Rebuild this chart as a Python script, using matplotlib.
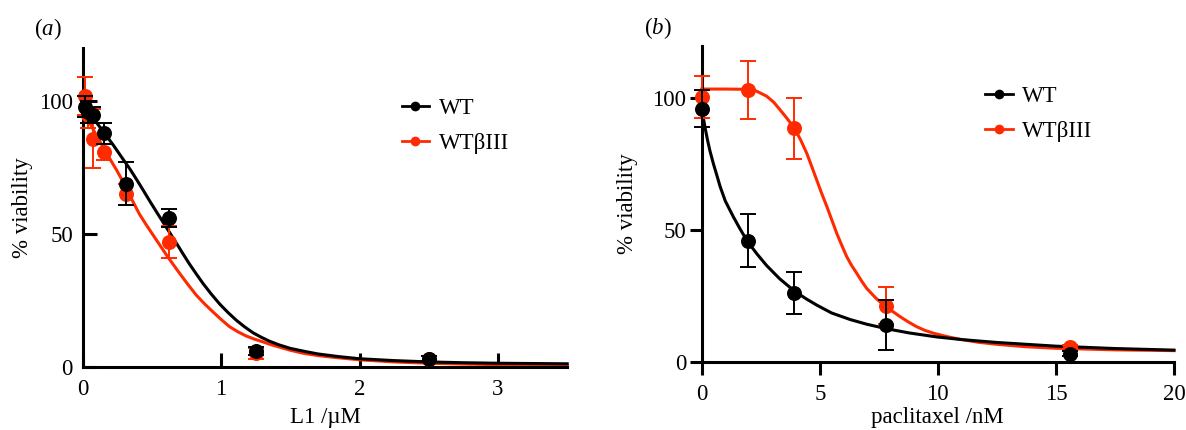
import matplotlib
matplotlib.use("Agg")
import matplotlib.pyplot as plt
from matplotlib.lines import Line2D

plt.rcParams["font.family"] = ["Liberation Serif", "DejaVu Serif"]
plt.rcParams["mathtext.fontset"] = "custom"
plt.rcParams["mathtext.rm"] = "Liberation Serif"
plt.rcParams["mathtext.it"] = "Liberation Serif:italic"

RED = "#ff2a00"
BLACK = "#000000"

# ---- panel (a): L1 dose response ----
l1_dose = [0.0195, 0.039, 0.078, 0.156, 0.3125, 0.625, 1.25, 2.5]
wt_l1 = [98, 96, 95, 88, 69, 56, 6, 3]
wt_l1_err = [4, 4, 3, 4, 8, 3.5, 1.5, 1]
b3_l1 = [102, 95, 86, 81, 65, 47, 5, 3]
b3_l1_err = [7, 5, 11, 3, 4, 6, 2, 1]

# fitted curves
wt_fit_x_a = [0, 0.05, 0.1, 0.16, 0.22, 0.29, 0.34, 0.39, 0.435, 0.48, 0.53, 0.58, 0.63,
              0.68, 0.725, 0.77, 0.82, 0.87, 0.93, 0.99, 1.05, 1.11, 1.17, 1.23, 1.29,
              1.35, 1.42, 1.5, 1.6, 1.7, 1.85, 2.0, 2.25, 2.5, 2.75, 3.0, 3.25, 3.5]
wt_fit_y_a = [98.5, 95.5, 92, 87.8, 83.6, 78.3, 74.6, 70.5, 66.7, 62.8, 58.6, 54.5, 50.4,
              46.3, 42.5, 38.8, 35, 31.3, 27.3, 23.6, 20.4, 17.5, 15, 12.8, 11.1,
              9.6, 8.2, 6.9, 5.8, 4.8, 3.8, 3.0, 2.3, 1.8, 1.5, 1.3, 1.2, 1.1]
b3_fit_x_a = [0, 0.05, 0.1, 0.16, 0.2, 0.245, 0.285, 0.32, 0.365, 0.41, 0.46, 0.51, 0.555,
              0.6, 0.65, 0.7, 0.76, 0.82, 0.88, 0.94, 1.0, 1.06, 1.12, 1.18, 1.24,
              1.3, 1.36, 1.42, 1.5, 1.6, 1.7, 1.8, 2.0, 2.25, 2.5, 2.75, 3.0, 3.25, 3.5]
b3_fit_y_a = [97.5, 92, 87, 81.7, 78, 74.1, 70.3, 66.6, 62, 57.5, 53.4, 49.5, 46,
              42.5, 38.8, 35.2, 31, 27, 23.7, 20.7, 17.8, 15.1, 13.2, 11.6, 10.4,
              9.4, 8.3, 7.4, 6.2, 5.0, 4.2, 3.6, 2.6, 1.8, 1.3, 1.0, 0.8, 0.7, 0.6]

# ---- panel (b): paclitaxel dose response ----
ptx_dose = [0, 1.95, 3.9, 7.8, 15.6]
wt_ptx = [96, 46, 26, 14, 3]
wt_ptx_err = [7, 10, 8, 9.5, 1]
b3_ptx = [100.4, 103.2, 88.6, 21.3, 5.4]
b3_ptx_err = [8, 11, 11.6, 7, 1]

wt_fit_x_b = [0, 0.08, 0.15, 0.25, 0.35, 0.5, 0.65, 0.78, 1.0, 1.34, 1.65, 1.95, 2.35,
              2.75, 3.3, 3.9, 4.4, 4.87, 5.5, 6.29, 7.0, 7.84, 8.8, 9.96, 11.0, 12.5,
              15, 17.5, 20]
wt_fit_y_b = [96, 92, 88.5, 84, 80, 75, 70.5, 66.5, 61, 55, 50, 45.5, 40.8,
              36.5, 31.5, 27, 24, 21.5, 18.5, 16, 14.2, 12.5, 10.9, 9.4, 8.4, 7.3,
              5.9, 5.0, 4.4]
b3_fit_x_b = [0, 1, 1.95, 2.3, 2.75, 3.05, 3.32, 3.6, 3.93, 4.2, 4.45, 4.66, 4.87, 5.08,
              5.3, 5.51, 5.72, 5.93, 6.14, 6.35, 6.57, 6.78, 6.99, 7.38, 7.77, 8.1, 8.4,
              8.75, 9.1, 9.45, 9.82, 10.4, 10.95, 11.7, 12.5, 13.7, 15, 17.5, 20]
b3_fit_y_b = [103.5, 103.5, 103.4, 102.8, 100.8, 98.5, 95.6, 92.5, 88.6, 84, 79.1, 74.1, 69,
              63.9, 58.9, 53.8, 48.7, 44.2, 39.9, 36.5, 33.5, 30.5, 27.8, 24.1, 21, 19, 17.1,
              15.1, 13.3, 11.9, 10.8, 9.5, 8.5, 7.4, 6.6, 5.7, 5.1, 4.5, 4.2]

labels = ["WT", "WT\u03b2III"]

W, H = 1186, 430
fig = plt.figure(figsize=(W / 100, H / 100), dpi=100)


def px_axes(x0, x1, y_top, y_bot):
    return fig.add_axes([x0 / W, 1 - y_bot / H, (x1 - x0) / W, (y_bot - y_top) / H])


ax_a = px_axes(82.7, 567.2, 48.3, 366.7)
ax_b = px_axes(701.7, 1174, 45.6, 361.7)

FS = 16.5
LW_CURVE = 2.2
MS = 10.8


def draw(ax, dose, wt, wt_err, b3, b3_err, fx_wt, fy_wt, fx_b3, fy_b3):
    ax.plot(fx_b3, fy_b3, color=RED, lw=LW_CURVE, zorder=2, clip_on=False)
    ax.plot(fx_wt, fy_wt, color=BLACK, lw=LW_CURVE, zorder=3, clip_on=False)
    ax.errorbar(dose, b3, yerr=b3_err, fmt="none", ecolor=RED,
                capsize=6, elinewidth=1.4, capthick=1.4, zorder=4, clip_on=False)
    ax.plot(dose, b3, "o", color=RED, ms=MS, mew=0, zorder=4, clip_on=False)
    ax.errorbar(dose, wt, yerr=wt_err, fmt="none", ecolor=BLACK,
                capsize=6, elinewidth=1.4, capthick=1.4, zorder=5, clip_on=False)
    ax.plot(dose, wt, "o", color=BLACK, ms=MS, mew=0, zorder=5, clip_on=False)
    for s in ["top", "right"]:
        ax.spines[s].set_visible(False)
    for s in ["left", "bottom"]:
        ax.spines[s].set_linewidth(2.2)
    ax.set_ylim(0, 120)
    ax.set_yticks([0, 50, 100])
    ax.tick_params(labelsize=FS, width=2.2)


draw(ax_a, l1_dose, wt_l1, wt_l1_err, b3_l1, b3_l1_err,
     wt_fit_x_a, wt_fit_y_a, b3_fit_x_a, b3_fit_y_a)
draw(ax_b, ptx_dose, wt_ptx, wt_ptx_err, b3_ptx, b3_ptx_err,
     wt_fit_x_b, wt_fit_y_b, b3_fit_x_b, b3_fit_y_b)

ax_a.set_xlim(0, 3.5)
ax_a.set_xticks([0, 1, 2, 3])
ax_a.tick_params(direction="in", length=10)
ax_a.tick_params(axis="x", pad=9)
ax_a.tick_params(axis="y", pad=7)

ax_b.set_xlim(0, 20)
ax_b.set_xticks([0, 5, 10, 15, 20])
ax_b.tick_params(direction="out", length=9)
ax_b.tick_params(axis="x", pad=7)
ax_b.tick_params(axis="y", pad=2)

ax_a.set_xlabel("L1 /\u00b5M", fontsize=FS, va="center")
ax_a.xaxis.set_label_coords(0.5, (366.7 - 417) / 318.4)
ax_a.set_ylabel("% viability", fontsize=FS, va="center")
ax_a.yaxis.set_label_coords((23 - 82.7) / 484.5, 0.5)

ax_b.set_xlabel("paclitaxel /nM", fontsize=FS, va="center")
ax_b.xaxis.set_label_coords(0.5, (361.7 - 417) / 316)
ax_b.set_ylabel("% viability", fontsize=FS, va="center")
ax_b.yaxis.set_label_coords((628 - 701.7) / 472.3, 0.5)

fig.text(48 / W, 1 - 29 / H, r"($\it{a}$)", fontsize=FS, ha="center", va="center")
fig.text(658 / W, 1 - 28 / H, r"($\it{b}$)", fontsize=FS, ha="center", va="center")

handles = [Line2D([], [], color=BLACK, lw=2, marker="o", ms=7, mew=0),
           Line2D([], [], color=RED, lw=2, marker="o", ms=7, mew=0)]
for ax, lx, ly in [(ax_a, 401.7, 98), (ax_b, 985, 86)]:
    ax.legend(handles, labels, loc="upper left", bbox_to_anchor=(lx / W, 1 - ly / H),
              bbox_transform=fig.transFigure, frameon=False, fontsize=FS,
              handlelength=1.2, handletextpad=0.42, labelspacing=0.6,
              borderpad=0, borderaxespad=0)

fig.savefig("out.png", dpi=100)
